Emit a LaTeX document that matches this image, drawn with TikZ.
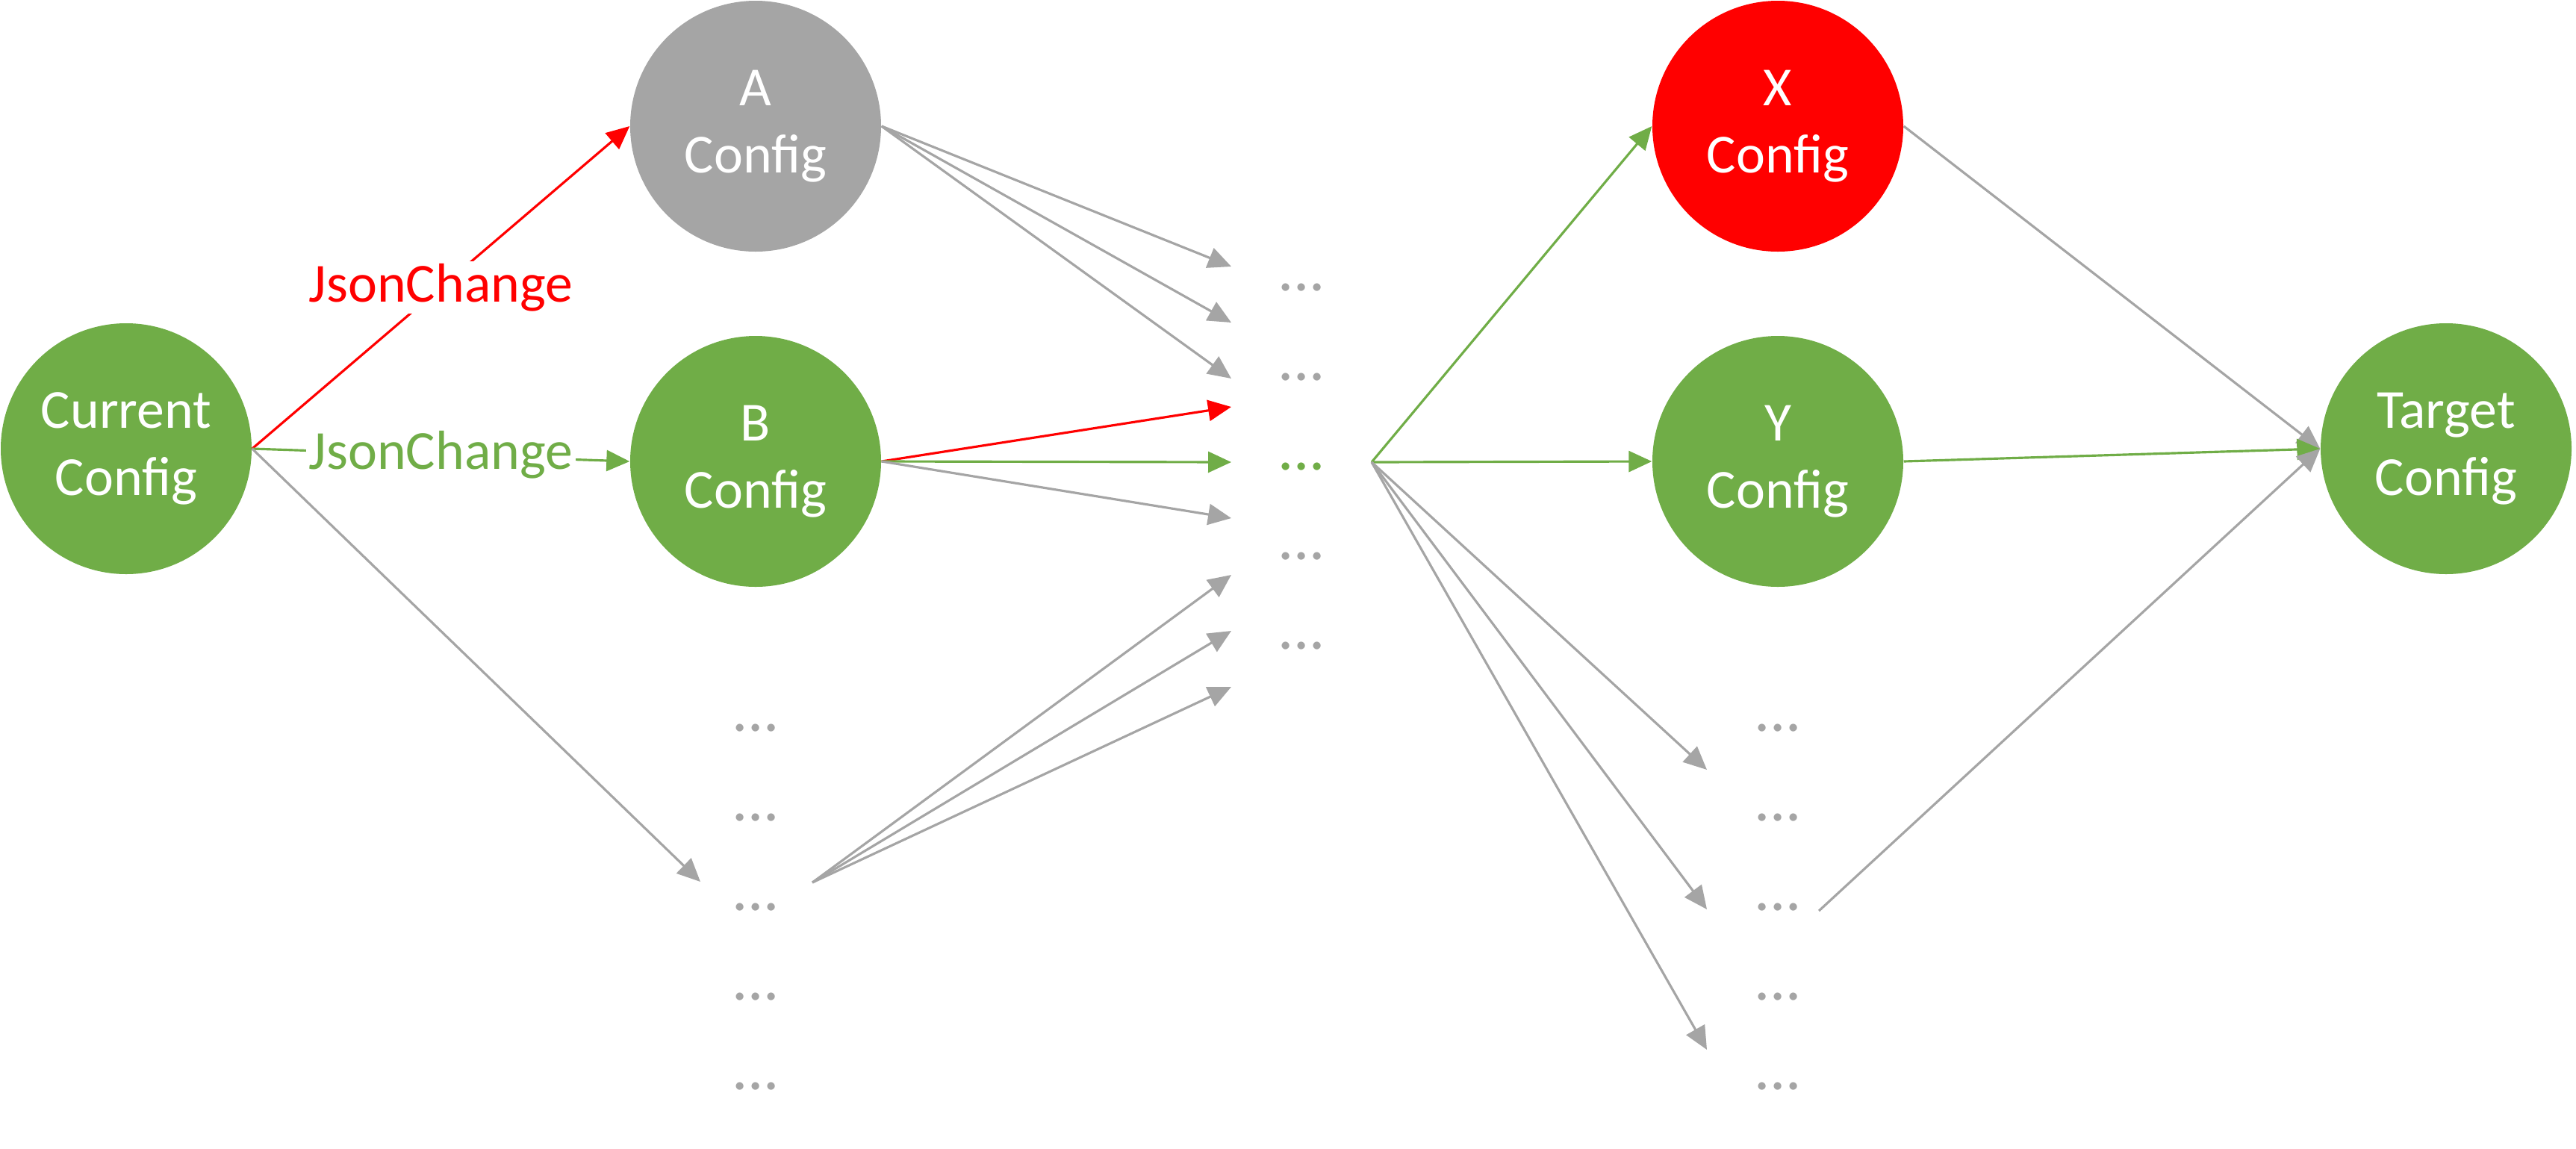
\documentclass[tikz,border=0pt]{standalone}
\usepackage{fontspec}
\setmainfont{Carlito}
\usetikzlibrary{arrows.meta}
\definecolor{cfggreen}{HTML}{70AD47}
\definecolor{cfggray}{HTML}{A5A5A5}
\definecolor{cfgred}{HTML}{FF0000}
\begin{document}
\begin{tikzpicture}[x=1cm,y=-1cm,
  cfg/.style={circle,minimum size=3.36cm,inner sep=0pt,text=white,align=center,font=\fontsize{21}{25.6}\selectfont},
  more/.style={inner sep=0pt,text=cfggray,font=\fontsize{24}{28}\selectfont},
  link/.style={line width=0.9pt,-{Triangle[length=0.31cm,width=0.28cm]}},
  change/.style={fill=white,inner sep=1pt,font=\fontsize{21}{25.6}\selectfont}]
  \useasboundingbox (0,0) rectangle (34.5,15.38);
  \node [cfg,fill=cfggreen] (cur) at (1.69,6.01) {Current\\Config};
  \node [cfg,fill=cfggray] (a) at (10.12,1.69) {A\\Config};
  \node [cfg,fill=cfggreen] (b) at (10.12,6.18) {B\\Config};
  \node [cfg,fill=cfgred] (x) at (23.81,1.69) {X\\Config};
  \node [cfg,fill=cfggreen] (y) at (23.81,6.18) {Y\\Config};
  \node [cfg,fill=cfggreen] (tgt) at (32.76,6.01) {Target\\Config};
  \foreach \i/\dy in {1/9.75,2/10.95,3/12.15,4/13.35,5/14.55} {
    \node [more] (l\i) at (10.12,\dy) {...};
    \node [more] (r\i) at (23.81,\dy) {...};
  }
  \foreach \i/\dy in {1/3.85,2/5.05,4/7.45,5/8.65}
    \node [more] (m\i) at (17.43,\dy) {...};
  \node [more,text=cfggreen] (m3) at (17.43,6.25) {...};
  \coordinate (lin) at (9.38,11.81);
  \coordinate (lout) at (10.88,11.82);
  \coordinate (mout) at (18.37,6.19);
  \coordinate (rout) at (24.36,12.20);
  \foreach \i/\ty in {1/3.57,2/4.32,3/5.07,4/5.45,5/6.19,6/6.94,7/7.70,8/8.45,9/9.20}
    \coordinate (t\i) at (16.49,\ty);
  \foreach \i/\ty in {1/10.31,2/12.18,3/14.06}
    \coordinate (s\i) at (22.86,\ty);
  \draw [link,cfgred] (cur.east) -- node[change,text=cfgred]{JsonChange} (a.west);
  \draw [link,cfggreen] (cur.east) -- node[change,text=cfggreen]{JsonChange} (b.west);
  \draw [link,cfggray] (cur.east) -- (lin);
  \foreach \i in {1,2,3} \draw [link,cfggray] (a.east) -- (t\i);
  \draw [link,cfgred] (b.east) -- (t4);
  \draw [link,cfggreen] (b.east) -- (t5);
  \draw [link,cfggray] (b.east) -- (t6);
  \foreach \i in {7,8,9} \draw [link,cfggray] (lout) -- (t\i);
  \draw [link,cfggreen] (mout) -- (x.west);
  \draw [link,cfggreen] (mout) -- (y.west);
  \foreach \i in {1,2,3} \draw [link,cfggray] (mout) -- (s\i);
  \draw [link,cfggray] (x.east) -- (tgt.west);
  \draw [link,cfggreen] (y.east) -- (tgt.west);
  \draw [link,cfggray] (rout) -- (tgt.west);
\end{tikzpicture}
\end{document}
